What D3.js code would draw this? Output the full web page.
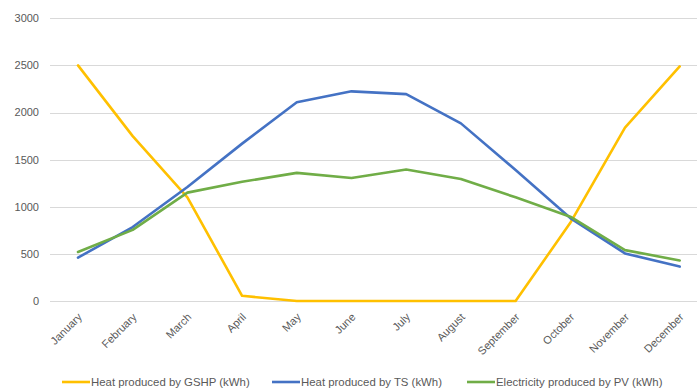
<!DOCTYPE html>
<html>
<head>
<meta charset="utf-8">
<script src="https://cdn.jsdelivr.net/npm/d3@7"></script>
<style>
  html, body { margin: 0; padding: 0; background: #fff; }
  svg { display: block; }
  text { font-family: "Liberation Sans", Arial, sans-serif; fill: #595959; }
</style>
</head>
<body>
<svg id="chart" width="697" height="388"></svg>
<script>
// Monthly energy figures (kWh)
const months = ["January", "February", "March", "April", "May", "June",
                "July", "August", "September", "October", "November", "December"];
const gshpHeat = [2500, 1750, 1100, 55, 0, 0, 0, 0, 0, 830, 1840, 2490];
const tsHeat   = [460, 785, 1210, 1670, 2110, 2225, 2195, 1885, 1390, 880, 505, 365];
const pvPower  = [520, 755, 1150, 1265, 1360, 1305, 1395, 1295, 1100, 895, 540, 430];
const yTicks   = [0, 500, 1000, 1500, 2000, 2500, 3000];

const seriesNames  = ["Heat produced by GSHP (kWh)", "Heat produced by TS (kWh)", "Electricity produced by PV (kWh)"];
const seriesColors = ["#FFC000", "#4472C4", "#70AD47"];
const seriesValues = [gshpHeat, tsHeat, pvPower];

const svg = d3.select("#chart");

const x = d3.scalePoint()
  .domain(months)
  .range([78, 679.7]);

const y = d3.scaleLinear()
  .domain([0, 3000])
  .range([301, 18.3]);

// horizontal gridlines
svg.append("g")
  .selectAll("line")
  .data(yTicks)
  .join("line")
  .attr("x1", 50)
  .attr("x2", 697)
  .attr("y1", d => Math.round(y(d)) + 0.5)
  .attr("y2", d => Math.round(y(d)) + 0.5)
  .attr("stroke", "#D9D9D9")
  .attr("stroke-width", 1);

// y-axis labels
svg.append("g")
  .selectAll("text")
  .data(yTicks)
  .join("text")
  .attr("x", 39)
  .attr("y", d => y(d))
  .attr("dy", "0.35em")
  .attr("text-anchor", "end")
  .style("font-size", "11px")
  .text(d => d);

// x-axis labels, slanted
svg.append("g")
  .selectAll("text")
  .data(months)
  .join("text")
  .attr("transform", d => `translate(${x(d) + 2},${315}) rotate(-45)`)
  .attr("text-anchor", "end")
  .attr("dy", "0.35em")
  .style("font-size", "11px")
  .text(d => d);

// series lines
const line = d3.line()
  .x((d, i) => x(months[i]))
  .y(d => y(d));

svg.append("g")
  .selectAll("path")
  .data(seriesValues)
  .join("path")
  .attr("d", d => line(d))
  .attr("fill", "none")
  .attr("stroke", (d, i) => seriesColors[i])
  .attr("stroke-width", 2.6)
  .attr("stroke-linejoin", "round")
  .attr("stroke-linecap", "round");

// legend
const legendX = [62, 272, 467];
const legend = svg.append("g")
  .selectAll("g")
  .data(seriesNames)
  .join("g")
  .attr("transform", (d, i) => `translate(${legendX[i]},382)`);

legend.append("line")
  .attr("x1", 0)
  .attr("x2", 28)
  .attr("stroke", (d, i) => seriesColors[i])
  .attr("stroke-width", 2.6);

legend.append("text")
  .attr("x", 29)
  .attr("dy", "0.35em")
  .style("font-size", "11.4px")
  .text(d => d);
</script>
</body>
</html>
